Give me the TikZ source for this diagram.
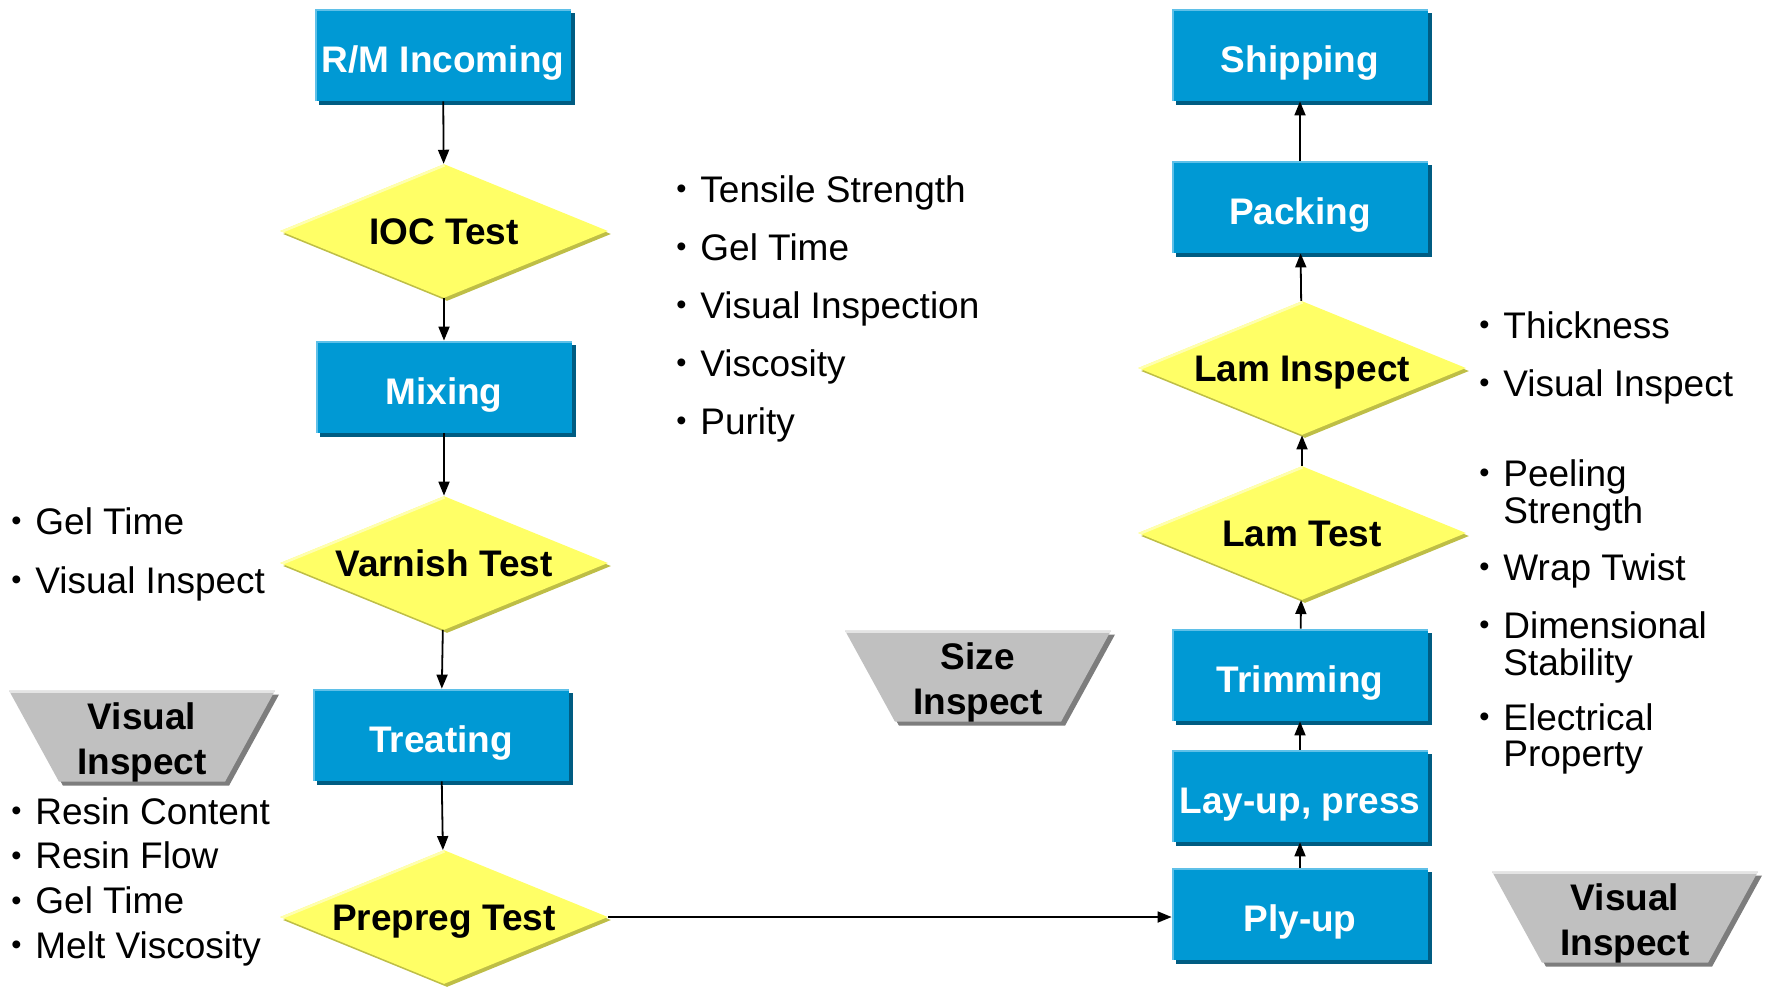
\documentclass[tikz,border=0pt]{standalone}
\usepackage{fontspec}
\setmainfont{Liberation Sans}
\usepackage{tikz}
\usetikzlibrary{shapes.geometric,shadows,arrows.meta}

\definecolor{boxblue}{RGB}{0,153,212}
\definecolor{boxshadow}{RGB}{0,92,130}
\definecolor{boxlight}{RGB}{95,192,232}
\definecolor{diayellow}{RGB}{255,255,102}
\definecolor{diashadow}{RGB}{190,190,70}
\definecolor{dialight}{RGB}{255,255,175}
\definecolor{trapgray}{RGB}{192,192,192}
\definecolor{trapshadow}{RGB}{125,125,125}
\definecolor{traplight}{RGB}{228,228,228}

\newcommand{\bul}{\makebox[12pt][l]{\raisebox{1.6pt}{\fontsize{14.5}{14.5}\selectfont\textbullet}}}
\newcommand{\twolines}[2]{\begin{tabular}[t]{@{}l@{}}#1\\#2\end{tabular}}
\newcommand{\insptext}[2]{\raisebox{-3.3pt}[\height][\depth]{\begin{tabular}{@{}c@{}}#1\\#2\end{tabular}}}

\begin{document}
\begin{tikzpicture}[x=0.5pt,y=-0.5pt,
	procbox/.style={rectangle, fill=boxblue, minimum width=128pt, minimum height=46pt, inner sep=0pt,
		text=white, font=\fontsize{18.5}{22.5}\selectfont\bfseries, text height=17pt, text depth=0pt,
		drop shadow={shadow xshift=2pt, shadow yshift=-2pt, fill=boxshadow, opacity=1},
		path picture={\draw[boxlight, line width=2pt] (path picture bounding box.south west) -- (path picture bounding box.north west) -- (path picture bounding box.north east);}},
	testdia/.style={diamond, fill=diayellow, minimum width=164pt, minimum height=67pt, inner sep=0pt, aspect=2.45,
		font=\fontsize{18.5}{22.5}\selectfont\bfseries, text height=13.5pt, text depth=0pt,
		drop shadow={shadow xshift=1.5pt, shadow yshift=-1.5pt, fill=diashadow, opacity=1},
		path picture={\draw[dialight, line width=2.5pt] (path picture bounding box.west) -- (path picture bounding box.north);}},
	inspect/.style={trapezium, trapezium left angle=61, trapezium right angle=61, shape border rotate=180,
		trapezium stretches body, minimum width=133pt, minimum height=45.5pt, inner sep=0pt, fill=trapgray,
		font=\fontsize{18.5}{22.5}\selectfont\bfseries,
		drop shadow={shadow xshift=2pt, shadow yshift=-2pt, fill=trapshadow, opacity=1},
		path picture={\draw[traplight, line width=2.5pt] (path picture bounding box.north west) -- (path picture bounding box.north east);}},
	item/.style={anchor=base west, inner sep=0pt, font=\fontsize{18.5}{18}\selectfont},
	flow/.style={-{Triangle[length=7pt,width=5.5pt]}, line width=0.9pt}]
	\useasboundingbox (0,0) rectangle (1766,986);

	% left column
	\node[procbox] (rm) at (443,55) {R/M Incoming};
	\node[testdia] (ioc) at (444,231) {IOC Test};
	\node[procbox] (mix) at (444,387) {Mixing};
	\node[testdia] (varnish) at (444,563) {Varnish Test};
	\node[procbox] (treat) at (441,735) {Treating};
	\node[testdia] (prepreg) at (444,917) {Prepreg Test};

	% right column
	\node[procbox] (ship) at (1300,55) {Shipping};
	\node[procbox] (pack) at (1300,207) {Packing};
	\node[testdia] (laminsp) at (1302,368) {Lam Inspect};
	\node[testdia] (lamtest) at (1302,533) {Lam Test};
	\node[procbox] (trim) at (1300,675) {Trimming};
	\node[procbox] (layup) at (1300,796) {Lay-up, press};
	\node[procbox] (ply) at (1300,914) {Ply-up};

	% inspection points
	\node[inspect] (visleft) at (142,736) {\insptext{Visual}{Inspect}};
	\node[inspect] (sizeinsp) at (978,676) {\insptext{Size}{Inspect}};
	\node[inspect] (visright) at (1625,917) {\insptext{Visual}{Inspect}};

	\draw[flow] (rm) -- (ioc);
	\draw[flow] (ioc) -- (mix);
	\draw[flow] (mix) -- (varnish);
	\draw[flow] (varnish) -- (treat);
	\draw[flow] (treat) -- (prepreg);
	\draw[flow] (prepreg.east) -- (prepreg.east -| ply.west);
	\draw[flow] (ply) -- (layup);
	\draw[flow] (layup) -- (trim);
	\draw[flow] (trim) -- (lamtest);
	\draw[flow] (lamtest) -- (laminsp);
	\draw[flow] (laminsp) -- (pack);
	\draw[flow] (pack) -- (ship);

	% test items
	\foreach \txt [count=\i] in {Tensile Strength, Gel Time, Visual Inspection, Viscosity, Purity}
		\node[item] (ioc\i) at (676,{202+58*(\i-1)}) {\bul\txt};
	\foreach \txt [count=\i] in {Gel Time, Visual Inspect}
		\node[item] (varn\i) at (11,{534+59*(\i-1)}) {\bul\txt};
	\foreach \txt [count=\i] in {Resin Content, Resin Flow, Gel Time, Melt Viscosity}
		\node[item] (prep\i) at (11,{824+44.7*(\i-1)}) {\bul\txt};
	\foreach \txt [count=\i] in {Thickness, Visual Inspect}
		\node[item] (linsp\i) at (1479,{338+58*(\i-1)}) {\bul\txt};
	\foreach \y/\txt [count=\i] in {486/{\twolines{Peeling}{Strength}}, 580/Wrap Twist,
			638/{\twolines{Dimensional}{Stability}}, 730/{\twolines{Electrical}{Property}}}
		\node[item] (ltest\i) at (1479,\y) {\bul\txt};
\end{tikzpicture}
\end{document}
